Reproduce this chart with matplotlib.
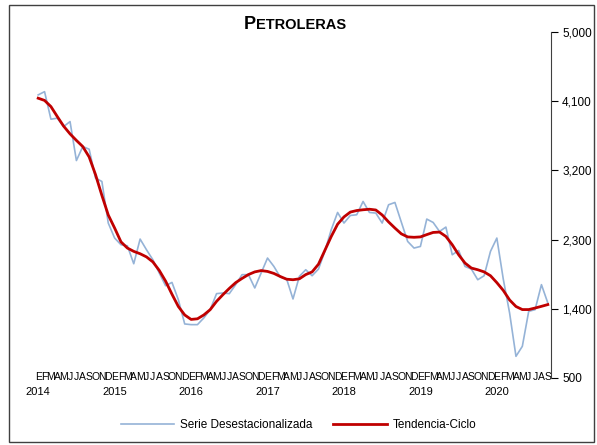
import matplotlib
matplotlib.use('Agg')
import matplotlib.pyplot as plt
from matplotlib.patches import Rectangle
from matplotlib.ticker import FuncFormatter

plt.rcParams['font.family'] = ['Liberation Sans', 'DejaVu Sans']

# monthly data, Jan 2014 - Sep 2020
years = ['2014', '2015', '2016', '2017', '2018', '2019', '2020']
month_letters = ['E', 'F', 'M', 'A', 'M', 'J', 'J', 'A', 'S', 'O', 'N', 'D']

serie_desest = [
    4182, 4224, 3866, 3879, 3770, 3835, 3328, 3510, 3476, 3100, 3056, 2515,
    2320, 2233, 2220, 1986, 2307, 2168, 2038, 1866, 1700, 1743, 1519, 1203,
    1194, 1194, 1281, 1389, 1597, 1606, 1597, 1714, 1844, 1844, 1671, 1866,
    2060, 1951, 1813, 1787, 1528, 1822, 1908, 1830, 1917, 2147, 2428, 2653,
    2515, 2614, 2623, 2796, 2653, 2645, 2515, 2753, 2783, 2528, 2276, 2190,
    2211, 2567, 2523, 2406, 2463, 2103, 2159, 1951, 1917, 1778, 1830, 2147,
    2320, 1790, 1346, 782, 912, 1367, 1389, 1714, 1476,
]

tendencia = [
    4139, 4110, 4030, 3900, 3775, 3675, 3590, 3510, 3375, 3145, 2875, 2620,
    2450, 2270, 2190, 2147, 2116, 2075, 2010, 1900, 1760, 1590, 1430, 1320,
    1262, 1270, 1320, 1389, 1497, 1584, 1665, 1740, 1795, 1845, 1880, 1897,
    1886, 1860, 1820, 1785, 1778, 1790, 1845, 1880, 1980, 2160, 2340, 2500,
    2595, 2658, 2678, 2688, 2695, 2685, 2620, 2530, 2450, 2375, 2335, 2330,
    2335, 2365, 2393, 2398, 2341, 2233, 2103, 1995, 1930, 1908, 1880, 1830,
    1740, 1640, 1515, 1430, 1390, 1390, 1410, 1432, 1455,
]

y_ticks = [500, 1400, 2300, 3200, 4100, 5000]

W, H = 597, 445
fig = plt.figure(figsize=(W / 100, H / 100), dpi=100)
ax = fig.add_axes([35 / W, 1 - 378 / H, (551 - 35) / W, (378 - 32) / H])

n = len(serie_desest)
x = list(range(n))
ax.plot(x, serie_desest, color='#95B3D7', lw=1.2, label='Serie Desestacionalizada')
ax.plot(x, tendencia, color='#C00000', lw=2.0, label='Tendencia-Ciclo')

ax.set_xlim(-0.5, n - 0.5)
ax.set_ylim(y_ticks[0], y_ticks[-1])

# y axis on the right
ax.yaxis.tick_right()
ax.set_yticks(y_ticks)
ax.yaxis.set_major_formatter(FuncFormatter(lambda v, p: f'{int(v):,}'))
ax.tick_params(axis='y', direction='out', length=5, width=0.8, labelsize=8.5, pad=3, colors='black')
for s in ['left', 'top', 'bottom']:
    ax.spines[s].set_visible(False)
ax.spines['right'].set_color('#404040')

# month letters on the bottom
ax.set_xticks(x)
ax.set_xticklabels([month_letters[i % 12] for i in x], fontsize=7.5)
ax.tick_params(axis='x', length=0, pad=-4)

# year labels under January
for k, yr in enumerate(years):
    ax.annotate(yr, xy=(k * 12, 0), xycoords=('data', 'axes fraction'),
                xytext=(0, -14), textcoords='offset pixels',
                ha='center', va='center', fontsize=8)

# title in small caps
fig.text(256 / W, 1 - 29 / H, 'P', ha='right', va='baseline', fontsize=13, fontweight='bold')
fig.text(256 / W, 1 - 29 / H, 'ETROLERAS', ha='left', va='baseline', fontsize=10.5, fontweight='bold')

fig.legend(loc='center', bbox_to_anchor=(0.5, 1 - 425 / H), ncol=2, frameon=False,
           fontsize=8.5, handlelength=4.5, columnspacing=1.8, handletextpad=0.5)

# outer chart frame
fig.patches.append(Rectangle((9 / W, 1 - 442 / H), (594 - 9) / W, (442 - 5) / H,
                             transform=fig.transFigure, fill=False, ec='#404040', lw=1.0))

fig.savefig('out.png', dpi=100)
